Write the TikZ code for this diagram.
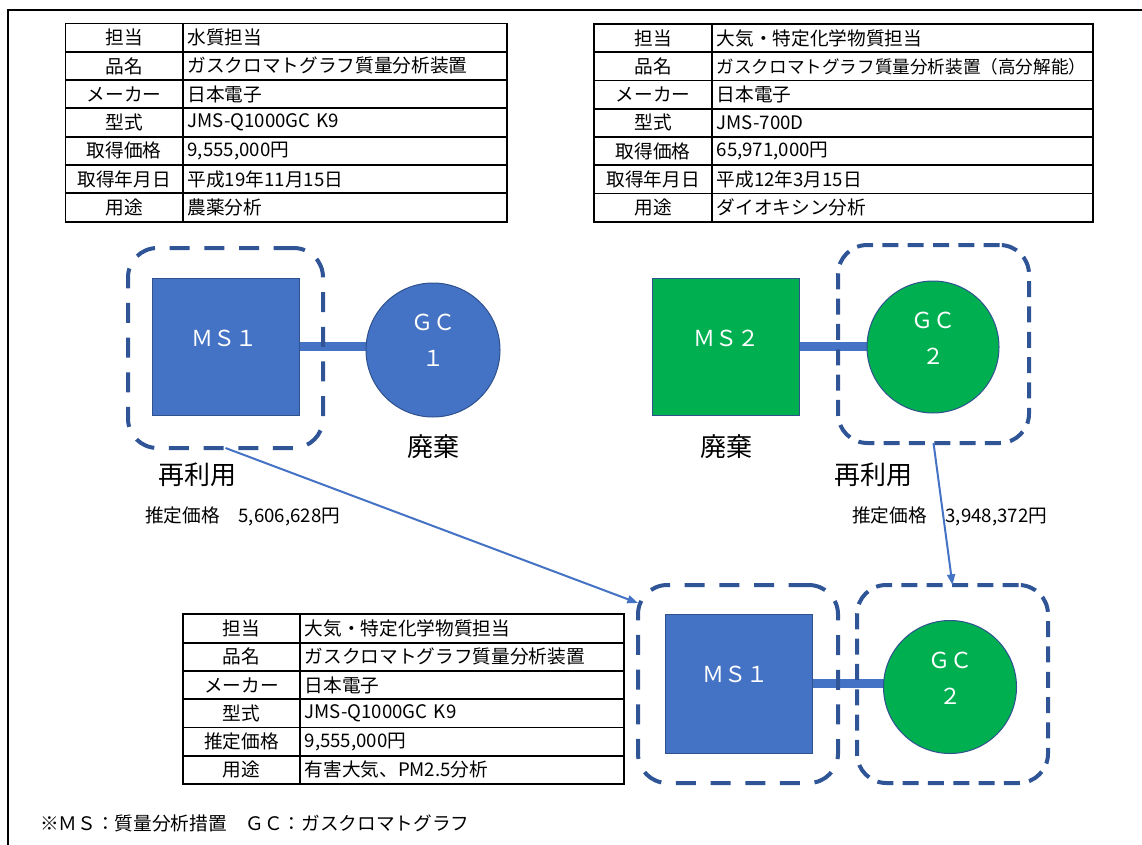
\documentclass[tikz,border=0pt]{standalone}
\usepackage{fontspec}
\setmainfont{Noto Sans CJK JP}
\usetikzlibrary{arrows.meta,backgrounds}
\definecolor{msblue}{RGB}{68,114,196}
\definecolor{edgeblue}{RGB}{47,82,143}
\definecolor{dashblue}{RGB}{47,85,151}
\definecolor{gcgreen}{RGB}{0,176,80}
\newcommand\tabfont{\fontsize{14pt}{16pt}\selectfont}
\newcommand\bigfont{\fontsize{19.5pt}{22pt}\selectfont}
\newcommand\shpfont{\fontsize{16.5pt}{27pt}\selectfont}
\newcommand\trow[7]{%
  \node[labcell, minimum width=#4] (#1l) at (#2,#3) {#6};
  \node[valcell, text width=#5] (#1v) at (#1l.north east) {#7};
}
\begin{document}
\begin{tikzpicture}[x=0.75pt,y=-0.75pt,
 cell/.style={draw=black, line width=1.4pt, outer sep=0pt, anchor=north west, minimum height=21.225pt, inner ysep=0pt, font=\tabfont},
 labcell/.style={cell, inner xsep=0pt, align=center},
 valcell/.style={cell, inner xsep=3.5pt, align=left},
 msbox/.style={rectangle, draw=edgeblue, line width=0.75pt, fill=msblue, minimum width=110.25pt, minimum height=102.75pt, inner sep=0pt},
 gcball/.style={circle, draw=edgeblue, line width=0.75pt, inner sep=0pt},
 shptext/.style={text=white, font=\shpfont, align=center, inner sep=0pt},
 encl/.style={draw=dashblue, line width=3pt, rounded corners=22pt, rectangle, inner sep=0pt, outer sep=0pt},
 longdash/.style={dash pattern=on 15pt off 11pt},
 shortdash/.style={dash pattern=on 12pt off 7pt},
 bar/.style={draw=msblue, line width=6.5pt},
 flow/.style={draw=msblue, line width=1.5pt, -{Triangle[length=8pt,width=6pt]}},
 lbl/.style={font=\bigfont, inner sep=0pt},
 price/.style={font=\tabfont, anchor=west, inner sep=0pt},
]
\useasboundingbox (0,0) rectangle (1142,845);
% frame
\draw[line width=2pt] (8,845) -- (8,10) -- (1142,10);

% table 1
\trow{ta1}{65.5}{23.5}{88.1pt}{236pt}{担当}{水質担当}
\trow{ta2}{65.5}{51.8}{88.1pt}{236pt}{品名}{ガスクロマトグラフ質量分析装置}
\trow{ta3}{65.5}{80.1}{88.1pt}{236pt}{メーカー}{日本電子}
\trow{ta4}{65.5}{108.4}{88.1pt}{236pt}{型式}{JMS-Q1000GC K9}
\trow{ta5}{65.5}{136.7}{88.1pt}{236pt}{取得価格}{9,555,000円}
\trow{ta6}{65.5}{165.0}{88.1pt}{236pt}{取得年月日}{平成19年11月15日}
\trow{ta7}{65.5}{193.3}{88.1pt}{236pt}{用途}{農薬分析}

% table 2
\trow{tb1}{594}{24}{88.5pt}{278.75pt}{担当}{大気・特定化学物質担当}
\trow{tb2}{594}{52.25}{88.5pt}{278.75pt}{品名}{{\fontsize{13.2pt}{16pt}\selectfont ガスクロマトグラフ質量分析装置（高分解能）}}
\trow{tb3}{594}{80.5}{88.5pt}{278.75pt}{メーカー}{日本電子}
\trow{tb4}{594}{108.75}{88.5pt}{278.75pt}{型式}{JMS-700D}
\trow{tb5}{594}{137}{88.5pt}{278.75pt}{取得価格}{65,971,000円}
\trow{tb6}{594}{165.25}{88.5pt}{278.75pt}{取得年月日}{平成12年3月15日}
\trow{tb7}{594}{193.5}{88.5pt}{278.75pt}{用途}{ダイオキシン分析}

% table 3
\trow{tc1}{183}{614.3}{87.75pt}{236pt}{担当}{大気・特定化学物質担当}
\trow{tc2}{183}{642.6}{87.75pt}{236pt}{品名}{ガスクロマトグラフ質量分析装置}
\trow{tc3}{183}{670.9}{87.75pt}{236pt}{メーカー}{日本電子}
\trow{tc4}{183}{699.2}{87.75pt}{236pt}{型式}{JMS-Q1000GC K9}
\trow{tc5}{183}{727.5}{87.75pt}{236pt}{推定価格}{9,555,000円}
\trow{tc6}{183}{755.8}{87.75pt}{236pt}{用途}{有害大気、PM2.5分析}

% enclosures
\node[encl, longdash, minimum width=146.25pt, minimum height=150pt] (d1) at (225.5,348) {};
\node[encl, shortdash, minimum width=143.25pt, minimum height=148.5pt] (d2) at (933.5,344) {};
\node[encl, longdash, minimum width=150pt, minimum height=148.5pt] (d3) at (738,684) {};
\node[encl, shortdash, minimum width=143.25pt, minimum height=148.5pt] (d4) at (952.5,684) {};

% instruments
\node[msbox] (ms1) at (225.5,346.5) {};
\node[gcball, fill=msblue, minimum size=100.5pt] (gc1) at (433,350) {};
\node[msbox, fill=gcgreen] (ms2) at (726,346.5) {};
\node[gcball, fill=gcgreen, minimum size=99pt] (gc2) at (933,347) {};
\node[msbox, minimum height=104.25pt] (ms3) at (738.5,683.5) {};
\node[gcball, fill=gcgreen, minimum size=99.75pt] (gc3) at (950,687) {};

\begin{pgfonlayer}{background}
\draw[bar] (ms1.center) -- (ms1.center -| gc1.center);
\draw[bar] (ms2.center) -- (ms2.center -| gc2.center);
\draw[bar] (ms3.center) -- (ms3.center -| gc3.center);
\end{pgfonlayer}

\node[shptext] (ms1t) at (224,338) {ＭＳ１};
\node[shptext] (gc1t) at (433,340) {ＧＣ\\１};
\node[shptext] (ms2t) at (726,338) {ＭＳ２};
\node[shptext] (gc2t) at (933,338) {ＧＣ\\２};
\node[shptext] (ms3t) at (735,674) {ＭＳ１};
\node[shptext] (gc3t) at (950,678) {ＧＣ\\２};

% labels
\node[lbl] (haiki1) at (433,447) {廃棄};
\node[lbl] (haiki2) at (726,447) {廃棄};
\node[lbl] (reuse1) at (197,475) {再利用};
\node[lbl] (reuse2) at (873,475) {再利用};
\node[price] (p1) at (145,516) {推定価格　5,606,628円};
\node[price] (p2) at (852,516) {推定価格　3,948,372円};

% arrows
\draw[flow] (d1.south) -- (d3.141);
\draw[flow] (d2.south) -- (d4.north);

% footnote
\node[price] (note) at (40,823) {※ＭＳ：質量分析措置　ＧＣ：ガスクロマトグラフ};
\end{tikzpicture}
\end{document}
